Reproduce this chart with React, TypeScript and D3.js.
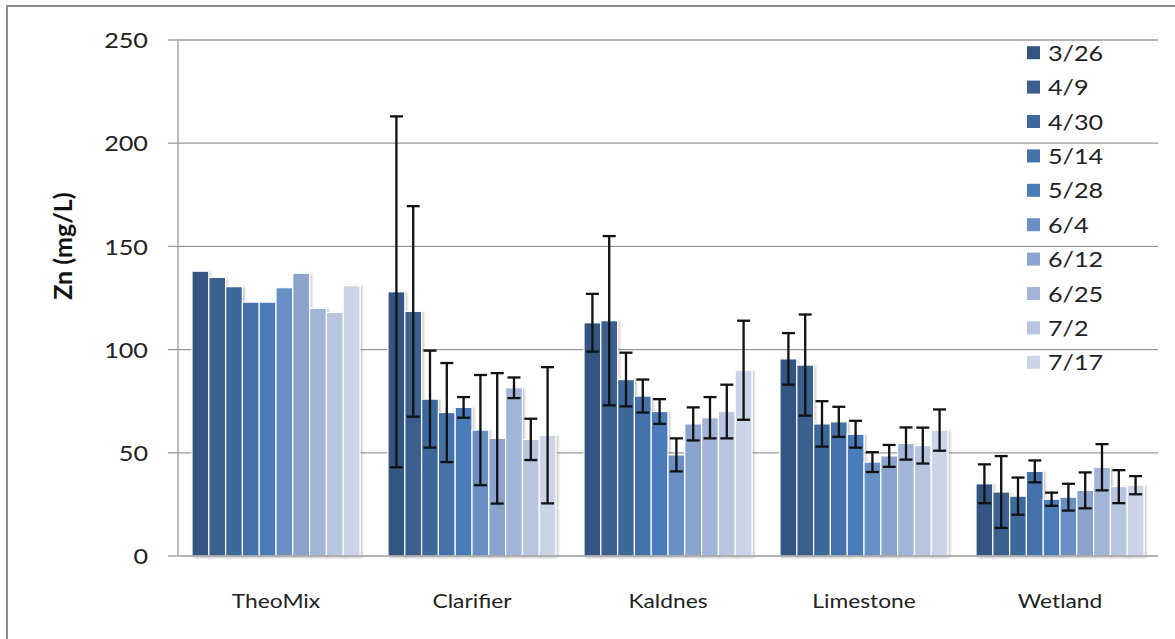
import React from 'react';
import * as d3 from 'd3';

const sites = ['TheoMix', 'Clarifier', 'Kaldnes', 'Limestone', 'Wetland'];
const dates = ['3/26', '4/9', '4/30', '5/14', '5/28', '6/4', '6/12', '6/25', '7/2', '7/17'];
const colors = ['#335581', '#3A5E8E', '#3E679C', '#4571AB', '#4A7CB8', '#6990C4', '#8AA4CD', '#A2B5D8', '#B8C5E0', '#CBD5E7'];

const theoMix = [138, 135, 130.5, 123, 123, 130, 137, 120, 118, 131];
const clarifier = [128, 118.5, 76, 69.5, 72, 61, 57, 81.5, 56.5, 58.5];
const clarifierErr = [85, 51, 23.5, 24, 5, 26.7, 31.6, 5, 10, 33];
const kaldnes = [113, 114, 85.5, 77.5, 70, 49, 64, 67, 70, 90];
const kaldnesErr = [14, 41, 13, 8, 6, 8, 8, 10, 13, 24];
const limestone = [95.5, 92.5, 64, 65, 59, 45.5, 48.5, 54.5, 53.5, 61];
const limestoneErr = [12.5, 24.5, 11, 7.3, 6.5, 4.8, 5.3, 7.8, 8.7, 10];
const wetland = [35, 31, 29, 41, 27.5, 28.5, 31.8, 43, 33.6, 34.3];
const wetlandErr = [9.4, 17.4, 9, 5.3, 3.2, 6.5, 8.7, 11.2, 8, 4.4];

const yTicks = [0, 50, 100, 150, 200, 250];

const means = [theoMix, clarifier, kaldnes, limestone, wetland];
const errs = [null, clarifierErr, kaldnesErr, limestoneErr, wetlandErr];

const W = 1175;
const H = 639;
const font = 'Lato, "Open Sans", sans-serif';
const sx = 1.2; // text in the source is stretched sideways

const App = () => {
  const left = 178, right = 1158, top = 40, bottom = 556;
  const x = d3.scaleBand().domain(sites).range([left, right]).paddingInner(0).paddingOuter(0);
  const inner = d3.scaleBand().domain(dates).range([14, x.bandwidth() - 14]).padding(0);
  const y = d3.scaleLinear().domain([0, 250]).range([bottom, top]);
  const bw = inner.bandwidth();

  return (
    <svg width={W} height={H} style={{ position: 'absolute', left: 0, top: 0, background: '#fff' }}>
      <defs>
        <filter id="sh" x="-20%" y="-5%" width="150%" height="110%">
          <feDropShadow dx="1.5" dy="1" stdDeviation="1.2" floodColor="#000" floodOpacity="0.25" />
        </filter>
      </defs>
      <rect x={7} y={6} width={W} height={H} fill="#fff" stroke="#8c8c8c" strokeWidth={2} />

      {yTicks.map(t => (
        <g key={t}>
          {t > 0 && <line x1={left} x2={right} y1={y(t)} y2={y(t)} stroke="#9a9a9a" strokeWidth={1.3} />}
          <line x1={left - 10} x2={left} y1={y(t)} y2={y(t)} stroke="#9a9a9a" strokeWidth={1.3} />
          <g transform={`translate(148,${y(t)}) scale(${sx},1)`}>
            <text textAnchor="end" dominantBaseline="central" fontFamily={font} fontSize={21} fill="#222">{t}</text>
          </g>
        </g>
      ))}
      <line x1={left} x2={left} y1={top} y2={bottom} stroke="#9a9a9a" strokeWidth={1.3} />

      <g transform={`translate(62,246) rotate(-90)`}>
        <text textAnchor="middle" dominantBaseline="central" fontFamily={font} fontWeight="bold" fontSize={25} fill="#111">Zn (mg/L)</text>
      </g>

      {sites.map((s, si) => (
        <g key={s} transform={`translate(${x(s)},0)`}>
          {dates.map((d, di) => (
            <rect key={d} x={inner(d)} y={y(means[si][di])} width={bw} height={bottom - y(means[si][di])}
              fill={colors[di]} stroke="#fff" strokeWidth={1.2} filter="url(#sh)" />
          ))}
        </g>
      ))}
      <line x1={left} x2={right} y1={bottom} y2={bottom} stroke="#9a9a9a" strokeWidth={1.3} />

      {sites.map((s, si) => errs[si] && (
        <g key={s + 'e'} transform={`translate(${x(s)},0)`} stroke="#111" strokeWidth={2.3}>
          {dates.map((d, di) => {
            const cx = inner(d)! + bw / 2;
            const hi = y(means[si][di] + errs[si]![di]);
            const lo = y(means[si][di] - errs[si]![di]);
            return (
              <g key={d}>
                <line x1={cx} x2={cx} y1={hi} y2={lo} />
                <line x1={cx - 6.5} x2={cx + 6.5} y1={hi} y2={hi} />
                <line x1={cx - 6.5} x2={cx + 6.5} y1={lo} y2={lo} />
              </g>
            );
          })}
        </g>
      ))}

      {sites.map(s => (
        <g key={s + 'l'} transform={`translate(${x(s)! + x.bandwidth() / 2},600) scale(${sx},1)`}>
          <text textAnchor="middle" dominantBaseline="central" fontFamily={font} fontSize={19} fill="#222">{s}</text>
        </g>
      ))}

      {dates.map((d, i) => {
        const ly = 52.7 + i * 34.4;
        return (
          <g key={d + 'lg'}>
            <rect x={1027} y={ly - 6.5} width={13} height={13} fill={colors[i]} />
            <g transform={`translate(1048,${ly}) scale(${sx},1)`}>
              <text dominantBaseline="central" fontFamily={font} fontSize={21} fill="#222">{d}</text>
            </g>
          </g>
        );
      })}
    </svg>
  );
};

export default App;
